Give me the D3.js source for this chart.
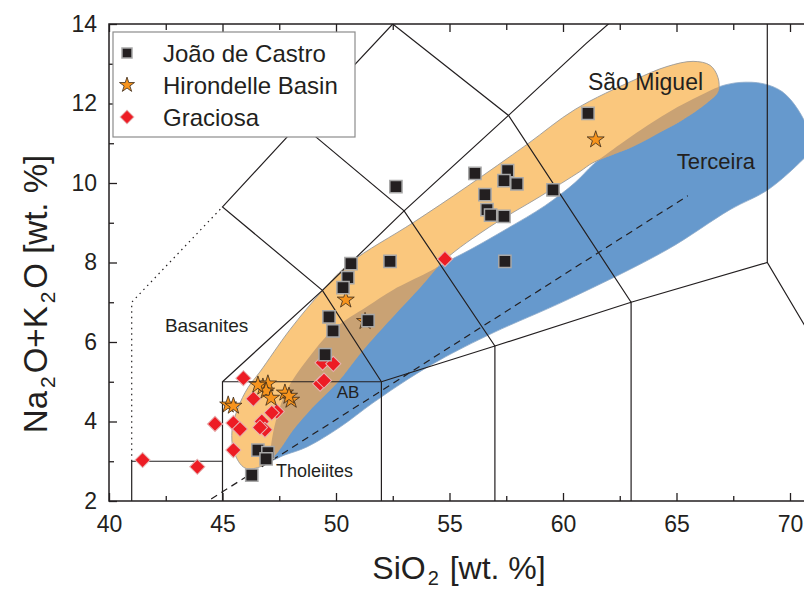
<!DOCTYPE html>
<html>
<head>
<meta charset="utf-8">
<script src="https://cdn.jsdelivr.net/npm/d3@7"></script>
<style>
  body { margin: 0; background: #fff; }
  svg { display: block; font-family: "Liberation Sans", Arial, Helvetica, sans-serif; }
</style>
</head>
<body>
<svg id="viz"></svg>
<script>
const width = 804, height = 594;

// tick values
const xMajor = [40, 45, 50, 55, 60, 65, 70];
const xMinor = [42.5, 47.5, 52.5, 57.5, 62.5, 67.5];
const yMajor = [2, 4, 6, 8, 10, 12, 14];
const yMinor = [3, 5, 7, 9, 11, 13];

// samples [SiO2, Na2O+K2O]
const joaoDeCastro = [
  [52.64, 9.91], [61.1, 11.75], [56.12, 10.24], [57.56, 10.31], [57.4, 10.06],
  [57.97, 9.98], [56.56, 9.71], [56.65, 9.33], [56.81, 9.19], [57.4, 9.16],
  [59.56, 9.83], [57.44, 8.03], [52.38, 8.03], [50.66, 7.97], [50.52, 7.62],
  [50.31, 7.37], [49.69, 6.63], [49.87, 6.28], [51.41, 6.54], [49.52, 5.68],
  [46.56, 3.28], [47.0, 3.22], [46.92, 3.06], [46.29, 2.65]
];
const hirondelle = [
  [61.44, 11.09], [50.43, 7.06], [51.28, 6.52], [45.25, 4.42], [45.48, 4.39],
  [46.78, 4.87], [47.0, 4.95], [46.92, 4.77], [47.14, 4.59], [47.75, 4.72],
  [48.02, 4.54], [47.93, 4.64], [46.56, 4.92]
];
const graciosa = [
  [45.92, 5.09], [46.36, 4.57], [44.67, 3.94], [45.48, 3.96], [45.77, 3.81],
  [46.73, 4.0], [46.87, 3.79], [46.65, 3.85], [47.39, 4.25], [47.17, 4.22],
  [45.48, 3.28], [41.48, 3.03], [43.89, 2.86], [49.41, 5.48], [49.88, 5.45],
  [49.3, 4.95], [49.47, 5.03], [54.8, 8.09]
];

// island fields
const saoMiguel = [
  [45.99, 2.83], [45.51, 3.23], [45.42, 3.79], [45.68, 4.34], [46.12, 4.85],
  [46.65, 5.25], [47.97, 6.31], [49.43, 7.31], [50.62, 7.99], [53.39, 9.0],
  [55.77, 9.91], [58.41, 10.97], [60.53, 11.85], [63.17, 12.6], [64.58, 12.93],
  [65.73, 13.06], [66.48, 12.96], [66.83, 12.65], [66.83, 12.3], [66.3, 12.0],
  [65.29, 11.6], [64.41, 11.32], [63.08, 10.92], [61.32, 10.51], [60.75, 10.29],
  [58.99, 9.66], [56.78, 8.9], [54.8, 8.07], [53.7, 7.37], [52.38, 6.56],
  [51.19, 5.8], [50.04, 4.97], [48.99, 4.37], [48.11, 3.79], [47.4, 3.21],
  [46.74, 2.88]
];
const terceira = [
  [47.09, 3.03], [47.14, 3.41], [47.36, 4.04], [47.84, 4.8], [48.72, 5.55],
  [49.87, 6.31], [51.37, 6.89], [52.51, 7.31], [54.01, 7.74], [54.89, 8.02],
  [55.9, 8.32], [57.53, 8.85], [59.21, 9.43], [60.53, 10.01], [61.32, 10.46],
  [62.07, 10.79], [63.39, 11.32], [64.71, 11.8], [66.04, 12.2], [66.92, 12.43],
  [67.8, 12.53], [68.81, 12.5], [69.65, 12.3], [70.35, 11.85], [70.88, 11.22],
  [70.97, 10.84], [70.57, 10.59], [69.03, 9.83], [67.36, 9.33], [64.58, 8.32],
  [60.18, 7.06], [56.92, 6.23], [54.58, 5.55], [53.13, 5.05], [51.63, 4.47],
  [50.18, 3.86], [48.72, 3.36], [47.75, 3.16]
];

// TAS boundaries (Le Bas et al.)
const tasSolid = [
  [[41, 2], [41, 3], [45, 3]],
  [[45, 2], [45, 5], [52, 5], [52, 2]],
  [[52, 5], [57, 5.9], [57, 2]],
  [[57, 5.9], [63, 7], [63, 2]],
  [[63, 7], [69, 8], [77.3, 0]],
  [[69, 8], [69, 15]],
  [[45, 5], [49.4, 7.3], [53, 9.3], [57.6, 11.7], [61, 13.5], [63, 14.5]],
  [[52, 5], [49.4, 7.3], [45, 9.4], [48.4, 11.5], [52.5, 14]],
  [[57, 5.9], [53, 9.3], [48.4, 11.5]],
  [[63, 7], [57.6, 11.7], [52.5, 14]]
];
const tasDotted = [[41, 3], [41, 7], [45, 9.4]];
const alkalineDivide = [[44.5, 2.05], [65.5, 9.68]];

const fieldLabels = [
  {text: "Basanites", at: [44.3, 6.25], size: 19, anchor: "middle"},
  {text: "AB", at: [50.53, 4.58], size: 17, anchor: "middle"},
  {text: "Tholeiites", at: [47.36, 2.6], size: 18, anchor: "start"},
  {text: "Terceira", at: [65.01, 10.35], size: 22, anchor: "start"},
  {text: "São Miguel", at: [61.1, 12.34], size: 23, anchor: "start"}
];

const svg = d3.select("#viz").attr("width", width).attr("height", height);

const x = d3.scaleLinear().domain([40, 70]).range([109, 790]);
const y = d3.scaleLinear().domain([2, 14]).range([501, 24]);

const ink = "#231F20";

svg.append("defs").append("clipPath").attr("id", "plot")
  .append("rect").attr("x", x(40)).attr("y", y(14))
  .attr("width", width - x(40)).attr("height", y(2) - y(14));
svg.select("defs").append("clipPath").attr("id", "smClip")
  .append("path").attr("d", d3.line().x(d => x(d[0])).y(d => y(d[1])).curve(d3.curveCatmullRomClosed)(saoMiguel));

const plot = svg.append("g").attr("clip-path", "url(#plot)");

const area = d3.line().x(d => x(d[0])).y(d => y(d[1])).curve(d3.curveCatmullRomClosed);

plot.append("path").attr("d", area(terceira))
  .attr("fill", "#6699CD").attr("stroke", "#8da9c9").attr("stroke-width", 0.8);
plot.append("path").attr("d", area(saoMiguel))
  .attr("fill", "#FAC77D").attr("stroke", "#9a9a9a").attr("stroke-width", 0.9);
plot.append("path").attr("d", area(terceira))
  .attr("clip-path", "url(#smClip)")
  .attr("fill", "#C9A274");

const line = d3.line().x(d => x(d[0])).y(d => y(d[1]));

plot.selectAll("path.tas").data(tasSolid).enter().append("path")
  .attr("class", "tas").attr("d", line)
  .attr("fill", "none").attr("stroke", ink).attr("stroke-width", 1.2);
plot.append("path").attr("d", line(tasDotted))
  .attr("fill", "none").attr("stroke", ink).attr("stroke-width", 1.2)
  .attr("stroke-dasharray", "1.5,4");
plot.append("path").attr("d", line(alkalineDivide))
  .attr("fill", "none").attr("stroke", ink).attr("stroke-width", 1.2)
  .attr("stroke-dasharray", "7,5");

plot.selectAll("text.field").data(fieldLabels).enter().append("text")
  .attr("class", "field")
  .attr("x", d => x(d.at[0])).attr("y", d => y(d.at[1]))
  .attr("text-anchor", d => d.anchor)
  .attr("font-size", d => d.size + "px")
  .attr("fill", ink)
  .text(d => d.text);

// axes
function styleAxis(g) {
  g.select(".domain").remove();
  g.selectAll(".tick line").attr("stroke", ink).attr("stroke-width", 1.3);
  g.selectAll(".tick text").attr("fill", ink).attr("font-size", "23px")
    .attr("font-family", "Liberation Sans, Arial, sans-serif");
}

svg.append("g").attr("transform", `translate(0,${y(2)})`)
  .call(d3.axisBottom(x).tickValues(xMajor).tickSize(-8).tickPadding(15).tickFormat(d3.format("d")))
  .call(styleAxis);
svg.append("g").attr("transform", `translate(0,${y(2)})`)
  .call(d3.axisBottom(x).tickValues(xMinor).tickSize(-5).tickFormat(""))
  .call(styleAxis);
svg.append("g").attr("transform", `translate(0,${y(14)})`)
  .call(d3.axisTop(x).tickValues(xMajor).tickSize(-8).tickFormat(""))
  .call(styleAxis);
svg.append("g").attr("transform", `translate(0,${y(14)})`)
  .call(d3.axisTop(x).tickValues(xMinor).tickSize(-6).tickFormat(""))
  .call(styleAxis);
svg.append("g").attr("transform", `translate(${x(40)},0)`)
  .call(d3.axisLeft(y).tickValues(yMajor).tickSize(-8).tickPadding(12).tickFormat(d3.format("d")))
  .call(styleAxis);
svg.append("g").attr("transform", `translate(${x(40)},0)`)
  .call(d3.axisLeft(y).tickValues(yMinor).tickSize(-5).tickFormat(""))
  .call(styleAxis);

svg.append("path")
  .attr("d", `M${width},${y(14)}H${x(40)}V${y(2)}H${width}`)
  .attr("fill", "none").attr("stroke", ink).attr("stroke-width", 1.5);

// markers
const sym = d3.symbol();
const drawDiamond = (g, size) => g.append("path")
  .attr("d", sym.type(d3.symbolSquare).size(size)())
  .attr("fill", "#ED1C24").attr("stroke", "#e6b3b3").attr("stroke-width", 1);
const drawStar = (g, size) => g.append("path")
  .attr("d", sym.type(d3.symbolStar).size(size)())
  .attr("fill", "#F7941D").attr("stroke", "#3a2a1a").attr("stroke-width", 0.8);
const drawSquare = (g, size) => g.append("path")
  .attr("d", sym.type(d3.symbolSquare).size(size)())
  .attr("fill", ink).attr("stroke", "#a8a8a8").attr("stroke-width", 1.5);

plot.selectAll("g.gra").data(graciosa).enter().append("g")
  .attr("class", "gra")
  .attr("transform", d => `translate(${x(d[0])},${y(d[1])}) rotate(45)`)
  .each(function() { drawDiamond(d3.select(this), 115); });
plot.selectAll("g.hir").data(hirondelle).enter().append("g")
  .attr("class", "hir")
  .attr("transform", d => `translate(${x(d[0])},${y(d[1])})`)
  .each(function() { drawStar(d3.select(this), 90); });
plot.selectAll("g.jdc").data(joaoDeCastro).enter().append("g")
  .attr("class", "jdc")
  .attr("transform", d => `translate(${x(d[0])},${y(d[1])})`)
  .each(function() { drawSquare(d3.select(this), 150); });

// legend
const legend = svg.append("g").attr("transform", "translate(113,32)");
legend.append("rect").attr("width", 242).attr("height", 105)
  .attr("fill", "#fff").attr("stroke", "#8c8c8c").attr("stroke-width", 1.2);
const legendItems = ["João de Castro", "Hirondelle Basin", "Graciosa"];
const legendDraw = [
  g => drawSquare(g, 100),
  g => drawStar(g, 70),
  g => drawDiamond(g.attr("transform", g.attr("transform") + " rotate(45)"), 95)
];
legendItems.forEach((name, i) => {
  const cy = 21 + i * 32;
  legendDraw[i](legend.append("g").attr("transform", `translate(14,${cy})`));
  legend.append("text").attr("x", 50).attr("y", cy + 8.5)
    .attr("font-size", "24px").attr("fill", ink).text(name);
});

// axis titles
const xt = svg.append("text").attr("x", 459).attr("y", 579)
  .attr("text-anchor", "middle").attr("font-size", "32px").attr("fill", ink);
xt.append("tspan").text("SiO");
xt.append("tspan").attr("font-size", "20px").attr("dx", 2).attr("dy", 6).text("2");
xt.append("tspan").attr("dx", 2).attr("dy", -6).text(" [wt. %]");

const yt = svg.append("text").attr("transform", "translate(47,294) rotate(-90)")
  .attr("text-anchor", "middle").attr("font-size", "33px").attr("fill", ink);
yt.append("tspan").text("Na");
yt.append("tspan").attr("font-size", "21px").attr("dx", 3).attr("dy", 8).text("2");
yt.append("tspan").attr("dx", 3).attr("dy", -8).text("O+K");
yt.append("tspan").attr("font-size", "21px").attr("dx", 3).attr("dy", 8).text("2");
yt.append("tspan").attr("dx", 3).attr("dy", -8).text("O [wt. %]");
</script>
</body>
</html>
